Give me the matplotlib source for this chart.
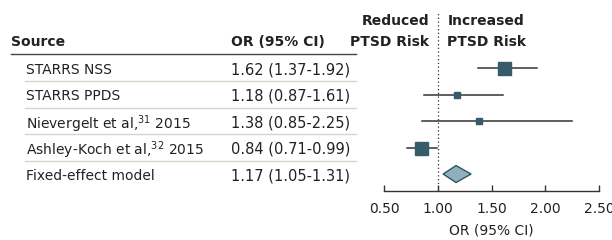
import matplotlib
matplotlib.use("Agg")
import matplotlib.pyplot as plt
from matplotlib.lines import Line2D
from matplotlib.patches import Polygon
import matplotlib.transforms as mtransforms

# ---- data ----
sources = ["STARRS NSS", "STARRS PPDS", "Nievergelt et al,$^{31}$ 2015",
           "Ashley-Koch et al,$^{32}$ 2015", "Fixed-effect model"]
odds = [1.62, 1.18, 1.38, 0.84, 1.17]
ci_low = [1.37, 0.87, 0.85, 0.71, 1.05]
ci_high = [1.92, 1.61, 2.25, 0.99, 1.31]
xticks = [0.50, 1.00, 1.50, 2.00, 2.50]

plt.rcParams["font.family"] = ["DejaVu Sans"]
plt.rcParams["mathtext.fontset"] = "dejavusans"

W, H = 612, 240
fig = plt.figure(figsize=(W / 100, H / 100), dpi=100)
ax = fig.add_axes([384 / W, 1 - 191 / H, 215 / W, 178 / H])

box_col = "#365b6a"
line_col = "#333333"
fs = 10

# study rows (last one is the pooled estimate)
n = len(sources)
rows = list(range(n))
box_px = [13, 6, 6, 13]
for i in range(n - 1):
    ax.plot([ci_low[i], ci_high[i]], [rows[i], rows[i]], color=line_col, lw=1.1, zorder=2)
    ax.plot(odds[i], rows[i], marker="s", ms=box_px[i] * 0.72, color=box_col,
            mec=box_col, zorder=3, linestyle="none")

# pooled diamond
r = rows[-1]
dh = 0.32
ax.add_patch(Polygon([[ci_low[-1], r], [odds[-1], r - dh], [ci_high[-1], r], [odds[-1], r + dh]],
                     closed=True, facecolor="#8fb0bc", edgecolor="#2e5566", lw=1.0, zorder=3))

ax.axvline(1.0, color=line_col, lw=0.9, linestyle=(0, (1, 2)), zorder=1)

ax.set_xlim(0.5, 2.5)
ax.set_ylim(4.64, -2.08)
ax.set_xticks(xticks)
ax.set_xticklabels([f"{t:.2f}" for t in xticks], fontsize=fs, color="#222222")
ax.set_yticks([])
for s in ["top", "right", "left"]:
    ax.spines[s].set_visible(False)
ax.spines["bottom"].set_color(line_col)
ax.spines["bottom"].set_linewidth(1.0)
ax.tick_params(axis="x", direction="in", length=4, width=1.0, color=line_col, pad=8)
ax.set_xlabel("OR (95% CI)", fontsize=fs, color="#222222", labelpad=5)
ax.patch.set_visible(False)

# risk direction labels
ax.annotate("Reduced", xy=(1.0, -1.78), xytext=(-6, 0), textcoords="offset points",
            ha="right", va="center", fontsize=fs, fontweight="bold", color="#222222")
ax.annotate("PTSD Risk", xy=(1.0, -1.0), xytext=(-6, 0), textcoords="offset points",
            ha="right", va="center", fontsize=fs, fontweight="bold", color="#222222")
ax.annotate("Increased", xy=(1.0, -1.78), xytext=(7, 0), textcoords="offset points",
            ha="left", va="center", fontsize=fs, fontweight="bold", color="#222222")
ax.annotate("PTSD Risk", xy=(1.0, -1.0), xytext=(7, 0), textcoords="offset points",
            ha="left", va="center", fontsize=fs, fontweight="bold", color="#222222")

# left-hand table
tr = mtransforms.blended_transform_factory(fig.transFigure, ax.transData)
fig.text(11 / W, -1.0, "Source", transform=tr, ha="left", va="center",
         fontsize=fs, fontweight="bold", color="#222222")
fig.text(231 / W, -1.0, "OR (95% CI)", transform=tr, ha="left", va="center",
         fontsize=fs, fontweight="bold", color="#222222")
fig.add_artist(Line2D([11 / W, 356 / W], [-0.53, -0.53], transform=tr, color="#444444", lw=1.0))
for i in range(n):
    fig.text(26 / W, rows[i], sources[i], transform=tr, ha="left", va="center_baseline",
             fontsize=fs, color="#222222")
    fig.text(231 / W, rows[i], f"{odds[i]:.2f} ({ci_low[i]:.2f}-{ci_high[i]:.2f})",
             transform=tr, ha="left", va="center_baseline", fontsize=10.5, color="#222222")
    if i < n - 1:
        fig.add_artist(Line2D([25 / W, 356 / W], [rows[i] + 0.5, rows[i] + 0.5],
                              transform=tr, color="#d9d4c6", lw=1.0))

fig.savefig("out.png", dpi=100)
